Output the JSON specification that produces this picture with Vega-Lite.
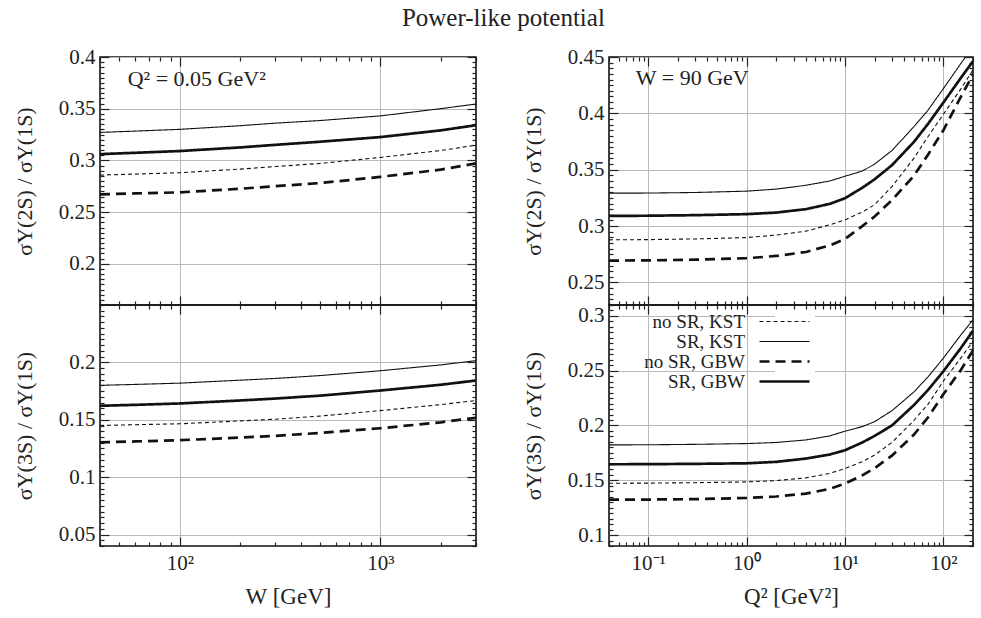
{
"$schema":"https://vega.github.io/schema/vega-lite/v6.json",
"padding":{"left":12,"top":5,"right":7,"bottom":4},
"title":{"text":"Power-like potential","fontSize":25,"font":"Liberation Serif","fontWeight":"normal","color":"#222","anchor":"middle","offset":12,"dx":9},
"spacing":41,
"resolve":{"scale":{"strokeDash":"independent"},"legend":{"strokeDash":"independent"}},
"datasets":{
"tl":[
{"W":40,"series":"no SR, KST","ratio":0.2857},{"W":40,"series":"SR, KST","ratio":0.327},{"W":40,"series":"no SR, GBW","ratio":0.267},{"W":40,"series":"SR, GBW","ratio":0.306},
{"W":60,"series":"no SR, KST","ratio":0.2867},{"W":60,"series":"SR, KST","ratio":0.3283},{"W":60,"series":"no SR, GBW","ratio":0.268},{"W":60,"series":"SR, GBW","ratio":0.3073},
{"W":100,"series":"no SR, KST","ratio":0.288},{"W":100,"series":"SR, KST","ratio":0.33},{"W":100,"series":"no SR, GBW","ratio":0.269},{"W":100,"series":"SR, GBW","ratio":0.309},
{"W":200,"series":"no SR, KST","ratio":0.2915},{"W":200,"series":"SR, KST","ratio":0.3335},{"W":200,"series":"no SR, GBW","ratio":0.2725},{"W":200,"series":"SR, GBW","ratio":0.3125},
{"W":300,"series":"no SR, KST","ratio":0.294},{"W":300,"series":"SR, KST","ratio":0.336},{"W":300,"series":"no SR, GBW","ratio":0.275},{"W":300,"series":"SR, GBW","ratio":0.315},
{"W":500,"series":"no SR, KST","ratio":0.297},{"W":500,"series":"SR, KST","ratio":0.3385},{"W":500,"series":"no SR, GBW","ratio":0.278},{"W":500,"series":"SR, GBW","ratio":0.318},
{"W":1000,"series":"no SR, KST","ratio":0.3028},{"W":1000,"series":"SR, KST","ratio":0.343},{"W":1000,"series":"no SR, GBW","ratio":0.284},{"W":1000,"series":"SR, GBW","ratio":0.3225},
{"W":2000,"series":"no SR, KST","ratio":0.3095},{"W":2000,"series":"SR, KST","ratio":0.35},{"W":2000,"series":"no SR, GBW","ratio":0.291},{"W":2000,"series":"SR, GBW","ratio":0.329},
{"W":3000,"series":"no SR, KST","ratio":0.3147},{"W":3000,"series":"SR, KST","ratio":0.3545},{"W":3000,"series":"no SR, GBW","ratio":0.297},{"W":3000,"series":"SR, GBW","ratio":0.334}
],
"bl":[
{"W":40,"series":"no SR, KST","ratio":0.145},{"W":40,"series":"SR, KST","ratio":0.18},{"W":40,"series":"no SR, GBW","ratio":0.1304},{"W":40,"series":"SR, GBW","ratio":0.1622},
{"W":60,"series":"no SR, KST","ratio":0.1457},{"W":60,"series":"SR, KST","ratio":0.1808},{"W":60,"series":"no SR, GBW","ratio":0.1311},{"W":60,"series":"SR, GBW","ratio":0.163},
{"W":100,"series":"no SR, KST","ratio":0.1465},{"W":100,"series":"SR, KST","ratio":0.1819},{"W":100,"series":"no SR, GBW","ratio":0.1322},{"W":100,"series":"SR, GBW","ratio":0.1642},
{"W":200,"series":"no SR, KST","ratio":0.149},{"W":200,"series":"SR, KST","ratio":0.1845},{"W":200,"series":"no SR, GBW","ratio":0.1345},{"W":200,"series":"SR, GBW","ratio":0.1668},
{"W":300,"series":"no SR, KST","ratio":0.1505},{"W":300,"series":"SR, KST","ratio":0.186},{"W":300,"series":"no SR, GBW","ratio":0.136},{"W":300,"series":"SR, GBW","ratio":0.1685},
{"W":500,"series":"no SR, KST","ratio":0.1532},{"W":500,"series":"SR, KST","ratio":0.1885},{"W":500,"series":"no SR, GBW","ratio":0.1385},{"W":500,"series":"SR, GBW","ratio":0.171},
{"W":1000,"series":"no SR, KST","ratio":0.158},{"W":1000,"series":"SR, KST","ratio":0.1927},{"W":1000,"series":"no SR, GBW","ratio":0.1426},{"W":1000,"series":"SR, GBW","ratio":0.1755},
{"W":2000,"series":"no SR, KST","ratio":0.1632},{"W":2000,"series":"SR, KST","ratio":0.1978},{"W":2000,"series":"no SR, GBW","ratio":0.1478},{"W":2000,"series":"SR, GBW","ratio":0.1805},
{"W":3000,"series":"no SR, KST","ratio":0.1668},{"W":3000,"series":"SR, KST","ratio":0.2015},{"W":3000,"series":"no SR, GBW","ratio":0.1517},{"W":3000,"series":"SR, GBW","ratio":0.1842}
],
"tr":[
{"Q2":0.04,"series":"no SR, KST","ratio":0.2878},{"Q2":0.04,"series":"SR, KST","ratio":0.3292},{"Q2":0.04,"series":"no SR, GBW","ratio":0.2694},{"Q2":0.04,"series":"SR, GBW","ratio":0.309},
{"Q2":0.1,"series":"no SR, KST","ratio":0.288},{"Q2":0.1,"series":"SR, KST","ratio":0.3293},{"Q2":0.1,"series":"no SR, GBW","ratio":0.2696},{"Q2":0.1,"series":"SR, GBW","ratio":0.3092},
{"Q2":0.3,"series":"no SR, KST","ratio":0.2886},{"Q2":0.3,"series":"SR, KST","ratio":0.3298},{"Q2":0.3,"series":"no SR, GBW","ratio":0.2702},{"Q2":0.3,"series":"SR, GBW","ratio":0.3097},
{"Q2":1,"series":"no SR, KST","ratio":0.2898},{"Q2":1,"series":"SR, KST","ratio":0.331},{"Q2":1,"series":"no SR, GBW","ratio":0.2715},{"Q2":1,"series":"SR, GBW","ratio":0.3106},
{"Q2":2,"series":"no SR, KST","ratio":0.292},{"Q2":2,"series":"SR, KST","ratio":0.3328},{"Q2":2,"series":"no SR, GBW","ratio":0.2735},{"Q2":2,"series":"SR, GBW","ratio":0.312},
{"Q2":4,"series":"no SR, KST","ratio":0.2955},{"Q2":4,"series":"SR, KST","ratio":0.3362},{"Q2":4,"series":"no SR, GBW","ratio":0.277},{"Q2":4,"series":"SR, GBW","ratio":0.315},
{"Q2":7,"series":"no SR, KST","ratio":0.3011},{"Q2":7,"series":"SR, KST","ratio":0.34},{"Q2":7,"series":"no SR, GBW","ratio":0.2828},{"Q2":7,"series":"SR, GBW","ratio":0.3197},
{"Q2":10,"series":"no SR, KST","ratio":0.3055},{"Q2":10,"series":"SR, KST","ratio":0.3442},{"Q2":10,"series":"no SR, GBW","ratio":0.2885},{"Q2":10,"series":"SR, GBW","ratio":0.3247},
{"Q2":15,"series":"no SR, KST","ratio":0.3125},{"Q2":15,"series":"SR, KST","ratio":0.3488},{"Q2":15,"series":"no SR, GBW","ratio":0.3},{"Q2":15,"series":"SR, GBW","ratio":0.334},
{"Q2":20,"series":"no SR, KST","ratio":0.319},{"Q2":20,"series":"SR, KST","ratio":0.355},{"Q2":20,"series":"no SR, GBW","ratio":0.3085},{"Q2":20,"series":"SR, GBW","ratio":0.3415},
{"Q2":30,"series":"no SR, KST","ratio":0.335},{"Q2":30,"series":"SR, KST","ratio":0.367},{"Q2":30,"series":"no SR, GBW","ratio":0.323},{"Q2":30,"series":"SR, GBW","ratio":0.354},
{"Q2":50,"series":"no SR, KST","ratio":0.36},{"Q2":50,"series":"SR, KST","ratio":0.388},{"Q2":50,"series":"no SR, GBW","ratio":0.3445},{"Q2":50,"series":"SR, GBW","ratio":0.3745},
{"Q2":70,"series":"no SR, KST","ratio":0.3795},{"Q2":70,"series":"SR, KST","ratio":0.403},{"Q2":70,"series":"no SR, GBW","ratio":0.3635},{"Q2":70,"series":"SR, GBW","ratio":0.3908},
{"Q2":100,"series":"no SR, KST","ratio":0.3992},{"Q2":100,"series":"SR, KST","ratio":0.422},{"Q2":100,"series":"no SR, GBW","ratio":0.385},{"Q2":100,"series":"SR, GBW","ratio":0.4096},
{"Q2":150,"series":"no SR, KST","ratio":0.4215},{"Q2":150,"series":"SR, KST","ratio":0.444},{"Q2":150,"series":"no SR, GBW","ratio":0.4145},{"Q2":150,"series":"SR, GBW","ratio":0.4313},
{"Q2":200,"series":"no SR, KST","ratio":0.4385},{"Q2":200,"series":"SR, KST","ratio":0.4594},{"Q2":200,"series":"no SR, GBW","ratio":0.4345},{"Q2":200,"series":"SR, GBW","ratio":0.4463}
],
"br":[
{"Q2":0.04,"series":"no SR, KST","ratio":0.1473},{"Q2":0.04,"series":"SR, KST","ratio":0.1823},{"Q2":0.04,"series":"no SR, GBW","ratio":0.1323},{"Q2":0.04,"series":"SR, GBW","ratio":0.1646},
{"Q2":0.1,"series":"no SR, KST","ratio":0.1474},{"Q2":0.1,"series":"SR, KST","ratio":0.1824},{"Q2":0.1,"series":"no SR, GBW","ratio":0.1324},{"Q2":0.1,"series":"SR, GBW","ratio":0.1647},
{"Q2":0.3,"series":"no SR, KST","ratio":0.1478},{"Q2":0.3,"series":"SR, KST","ratio":0.1828},{"Q2":0.3,"series":"no SR, GBW","ratio":0.1328},{"Q2":0.3,"series":"SR, GBW","ratio":0.165},
{"Q2":1,"series":"no SR, KST","ratio":0.1485},{"Q2":1,"series":"SR, KST","ratio":0.1835},{"Q2":1,"series":"no SR, GBW","ratio":0.1338},{"Q2":1,"series":"SR, GBW","ratio":0.1655},
{"Q2":2,"series":"no SR, KST","ratio":0.1497},{"Q2":2,"series":"SR, KST","ratio":0.1845},{"Q2":2,"series":"no SR, GBW","ratio":0.1352},{"Q2":2,"series":"SR, GBW","ratio":0.1668},
{"Q2":4,"series":"no SR, KST","ratio":0.1522},{"Q2":4,"series":"SR, KST","ratio":0.1868},{"Q2":4,"series":"no SR, GBW","ratio":0.1378},{"Q2":4,"series":"SR, GBW","ratio":0.1698},
{"Q2":7,"series":"no SR, KST","ratio":0.1563},{"Q2":7,"series":"SR, KST","ratio":0.1905},{"Q2":7,"series":"no SR, GBW","ratio":0.1422},{"Q2":7,"series":"SR, GBW","ratio":0.1735},
{"Q2":10,"series":"no SR, KST","ratio":0.1607},{"Q2":10,"series":"SR, KST","ratio":0.1948},{"Q2":10,"series":"no SR, GBW","ratio":0.147},{"Q2":10,"series":"SR, GBW","ratio":0.1774},
{"Q2":15,"series":"no SR, KST","ratio":0.167},{"Q2":15,"series":"SR, KST","ratio":0.199},{"Q2":15,"series":"no SR, GBW","ratio":0.1545},{"Q2":15,"series":"SR, GBW","ratio":0.1845},
{"Q2":20,"series":"no SR, KST","ratio":0.173},{"Q2":20,"series":"SR, KST","ratio":0.2035},{"Q2":20,"series":"no SR, GBW","ratio":0.161},{"Q2":20,"series":"SR, GBW","ratio":0.1905},
{"Q2":30,"series":"no SR, KST","ratio":0.1845},{"Q2":30,"series":"SR, KST","ratio":0.2135},{"Q2":30,"series":"no SR, GBW","ratio":0.1725},{"Q2":30,"series":"SR, GBW","ratio":0.2},
{"Q2":50,"series":"no SR, KST","ratio":0.2045},{"Q2":50,"series":"SR, KST","ratio":0.2305},{"Q2":50,"series":"no SR, GBW","ratio":0.1915},{"Q2":50,"series":"SR, GBW","ratio":0.2185},
{"Q2":70,"series":"no SR, KST","ratio":0.2195},{"Q2":70,"series":"SR, KST","ratio":0.2445},{"Q2":70,"series":"no SR, GBW","ratio":0.2075},{"Q2":70,"series":"SR, GBW","ratio":0.2325},
{"Q2":100,"series":"no SR, KST","ratio":0.2405},{"Q2":100,"series":"SR, KST","ratio":0.2615},{"Q2":100,"series":"no SR, GBW","ratio":0.2285},{"Q2":100,"series":"SR, GBW","ratio":0.2495},
{"Q2":150,"series":"no SR, KST","ratio":0.2615},{"Q2":150,"series":"SR, KST","ratio":0.2825},{"Q2":150,"series":"no SR, GBW","ratio":0.2505},{"Q2":150,"series":"SR, GBW","ratio":0.2705},
{"Q2":200,"series":"no SR, KST","ratio":0.277},{"Q2":200,"series":"SR, KST","ratio":0.2965},{"Q2":200,"series":"no SR, GBW","ratio":0.2685},{"Q2":200,"series":"SR, GBW","ratio":0.2865}
]
},
"hconcat":[
{"vconcat":[
 {"width":376,"height":248,"data":{"name":"tl"},
  "layer":[
   {"mark":{"type":"line","color":"#111","clip":true},
    "encoding":{
     "x":{"field":"W","type":"quantitative","scale":{"type":"log","domain":[40,3000],"nice":false},
      "axis":{"orient":"bottom","values":[40,50,60,70,80,90,100,200,300,400,500,600,700,800,900,1000,2000,3000],"labels":false,"title":null,"grid":true,
       "gridOpacity":{"condition":{"test":"datum.value==100||datum.value==1000","value":1},"value":0},
       "tickSize":{"condition":{"test":"datum.value==100||datum.value==1000","value":-9},"value":-4}}},
     "y":{"field":"ratio","type":"quantitative","scale":{"domain":[0.16,0.4],"nice":false,"zero":false},
      "axis":{"orient":"left","values":[0.16,0.165,0.17,0.175,0.18,0.185,0.19,0.195,0.2,0.205,0.21,0.215,0.22,0.225,0.23,0.235,0.24,0.245,0.25,0.255,0.26,0.265,0.27,0.275,0.28,0.285,0.29,0.295,0.3,0.305,0.31,0.315,0.32,0.325,0.33,0.335,0.34,0.345,0.35,0.355,0.36,0.365,0.37,0.375,0.38,0.385,0.39,0.395,0.4],
       "labelExpr":"abs(datum.value*20-round(datum.value*20))<0.001 ? format(datum.value,'.2~f') : ''",
       "labelPadding":14,"grid":true,
       "gridOpacity":{"condition":{"test":"abs(datum.value*20-round(datum.value*20))<0.001","value":1},"value":0},
       "tickSize":{"condition":{"test":"abs(datum.value*20-round(datum.value*20))<0.001","value":-9},"value":-4},
       "minExtent":50,"maxExtent":50,"title":"σΥ(2S) / σΥ(1S)","titleFontSize":22,"titlePadding":14}},
     "strokeDash":{"field":"series","type":"nominal","scale":{"domain":["no SR, KST","SR, KST","no SR, GBW","SR, GBW"],"range":[[4,3],[1,0],[10,6],[1,0]]},"legend":null},
     "strokeWidth":{"condition":{"test":"datum.series=='no SR, GBW'||datum.series=='SR, GBW'","value":2.7},"value":1.1}
    }},
   {"mark":{"type":"point","opacity":0},
    "encoding":{
     "x":{"field":"W","type":"quantitative","scale":{"type":"log","domain":[40,3000],"nice":false},
      "axis":{"orient":"top","values":[40,50,60,70,80,90,100,200,300,400,500,600,700,800,900,1000,2000,3000],"labels":false,"title":null,"grid":false,
       "tickSize":{"condition":{"test":"datum.value==100||datum.value==1000","value":-9},"value":-4}}},
     "y":{"field":"ratio","type":"quantitative","scale":{"domain":[0.16,0.4],"nice":false,"zero":false},
      "axis":{"orient":"right","values":[0.16,0.165,0.17,0.175,0.18,0.185,0.19,0.195,0.2,0.205,0.21,0.215,0.22,0.225,0.23,0.235,0.24,0.245,0.25,0.255,0.26,0.265,0.27,0.275,0.28,0.285,0.29,0.295,0.3,0.305,0.31,0.315,0.32,0.325,0.33,0.335,0.34,0.345,0.35,0.355,0.36,0.365,0.37,0.375,0.38,0.385,0.39,0.395,0.4],
       "labels":false,"title":null,"grid":false,
       "tickSize":{"condition":{"test":"abs(datum.value*20-round(datum.value*20))<0.001","value":-9},"value":-4}}}
    }},
   {"data":{"values":[{}]},
    "mark":{"type":"text","align":"left","baseline":"alphabetic","fontSize":22,"font":"Liberation Serif","color":"#222"},
    "encoding":{"x":{"datum":55,"type":"quantitative","axis":null},"y":{"datum":0.372,"type":"quantitative","axis":null},"text":{"value":"Q² = 0.05 GeV²"}}}
  ],
  "resolve":{"axis":{"x":"independent","y":"independent"}}
 },
 {"width":376,"height":241,"data":{"name":"bl"},
  "layer":[
   {"mark":{"type":"line","color":"#111","clip":true},
    "encoding":{
     "x":{"field":"W","type":"quantitative","scale":{"type":"log","domain":[40,3000],"nice":false},
      "axis":{"orient":"bottom","values":[40,50,60,70,80,90,100,200,300,400,500,600,700,800,900,1000,2000,3000],
       "labelExpr":"datum.value==100 ? '10²' : datum.value==1000 ? '10³' : ''","labelPadding":15,"title":"W [GeV]","titlePadding":7,"grid":true,
       "gridOpacity":{"condition":{"test":"datum.value==100||datum.value==1000","value":1},"value":0},
       "tickSize":{"condition":{"test":"datum.value==100||datum.value==1000","value":-9},"value":-4}}},
     "y":{"field":"ratio","type":"quantitative","scale":{"domain":[0.04,0.25],"nice":false,"zero":false},
      "axis":{"orient":"left","values":[0.04,0.045,0.05,0.055,0.06,0.065,0.07,0.075,0.08,0.085,0.09,0.095,0.1,0.105,0.11,0.115,0.12,0.125,0.13,0.135,0.14,0.145,0.15,0.155,0.16,0.165,0.17,0.175,0.18,0.185,0.19,0.195,0.2,0.205,0.21,0.215,0.22,0.225,0.23,0.235,0.24,0.245],
       "labelExpr":"abs(datum.value*20-round(datum.value*20))<0.001 ? format(datum.value,'.2~f') : ''",
       "labelPadding":14,"grid":true,
       "gridOpacity":{"condition":{"test":"abs(datum.value*20-round(datum.value*20))<0.001","value":1},"value":0},
       "tickSize":{"condition":{"test":"abs(datum.value*20-round(datum.value*20))<0.001","value":-9},"value":-4},
       "minExtent":50,"maxExtent":50,"title":"σΥ(3S) / σΥ(1S)","titleFontSize":22,"titlePadding":14}},
     "strokeDash":{"field":"series","type":"nominal","scale":{"domain":["no SR, KST","SR, KST","no SR, GBW","SR, GBW"],"range":[[4,3],[1,0],[10,6],[1,0]]},"legend":null},
     "strokeWidth":{"condition":{"test":"datum.series=='no SR, GBW'||datum.series=='SR, GBW'","value":2.7},"value":1.1}
    }},
   {"mark":{"type":"point","opacity":0},
    "encoding":{
     "x":{"field":"W","type":"quantitative","scale":{"type":"log","domain":[40,3000],"nice":false},
      "axis":{"orient":"top","values":[40,50,60,70,80,90,100,200,300,400,500,600,700,800,900,1000,2000,3000],"labels":false,"title":null,"grid":false,
       "tickSize":{"condition":{"test":"datum.value==100||datum.value==1000","value":-9},"value":-4}}},
     "y":{"field":"ratio","type":"quantitative","scale":{"domain":[0.04,0.25],"nice":false,"zero":false},
      "axis":{"orient":"right","values":[0.04,0.045,0.05,0.055,0.06,0.065,0.07,0.075,0.08,0.085,0.09,0.095,0.1,0.105,0.11,0.115,0.12,0.125,0.13,0.135,0.14,0.145,0.15,0.155,0.16,0.165,0.17,0.175,0.18,0.185,0.19,0.195,0.2,0.205,0.21,0.215,0.22,0.225,0.23,0.235,0.24,0.245],
       "labels":false,"title":null,"grid":false,
       "tickSize":{"condition":{"test":"abs(datum.value*20-round(datum.value*20))<0.001","value":-9},"value":-4}}}
    }}
  ],
  "resolve":{"axis":{"x":"independent","y":"independent"}}
 }
],
"spacing":0,"bounds":"flush",
"resolve":{"scale":{"strokeDash":"independent"},"legend":{"strokeDash":"independent"}}
},
{"vconcat":[
 {"width":364,"height":248,"data":{"name":"tr"},
  "layer":[
   {"mark":{"type":"line","color":"#111","clip":true},
    "encoding":{
     "x":{"field":"Q2","type":"quantitative","scale":{"type":"log","domain":[0.04,200],"nice":false},
      "axis":{"orient":"bottom","values":[0.04,0.05,0.06,0.07,0.08,0.09,0.1,0.2,0.3,0.4,0.5,0.6,0.7,0.8,0.9,1,2,3,4,5,6,7,8,9,10,20,30,40,50,60,70,80,90,100,200],"labels":false,"title":null,"grid":true,
       "gridOpacity":{"condition":{"test":"datum.value==0.1||datum.value==1||datum.value==10||datum.value==100","value":1},"value":0},
       "tickSize":{"condition":{"test":"datum.value==0.1||datum.value==1||datum.value==10||datum.value==100","value":-9},"value":-4}}},
     "y":{"field":"ratio","type":"quantitative","scale":{"domain":[0.23,0.45],"nice":false,"zero":false},
      "axis":{"orient":"left","values":[0.23,0.235,0.24,0.245,0.25,0.255,0.26,0.265,0.27,0.275,0.28,0.285,0.29,0.295,0.3,0.305,0.31,0.315,0.32,0.325,0.33,0.335,0.34,0.345,0.35,0.355,0.36,0.365,0.37,0.375,0.38,0.385,0.39,0.395,0.4,0.405,0.41,0.415,0.42,0.425,0.43,0.435,0.44,0.445,0.45],
       "labelExpr":"abs(datum.value*20-round(datum.value*20))<0.001 ? format(datum.value,'.2~f') : ''",
       "labelPadding":14,"grid":true,
       "gridOpacity":{"condition":{"test":"abs(datum.value*20-round(datum.value*20))<0.001","value":1},"value":0},
       "tickSize":{"condition":{"test":"abs(datum.value*20-round(datum.value*20))<0.001","value":-9},"value":-4},
       "minExtent":50,"maxExtent":50,"title":"σΥ(2S) / σΥ(1S)","titleFontSize":22,"titlePadding":14}},
     "strokeDash":{"field":"series","type":"nominal","scale":{"domain":["no SR, KST","SR, KST","no SR, GBW","SR, GBW"],"range":[[4,3],[1,0],[10,6],[1,0]]},"legend":null},
     "strokeWidth":{"condition":{"test":"datum.series=='no SR, GBW'||datum.series=='SR, GBW'","value":2.7},"value":1.1}
    }},
   {"mark":{"type":"point","opacity":0},
    "encoding":{
     "x":{"field":"Q2","type":"quantitative","scale":{"type":"log","domain":[0.04,200],"nice":false},
      "axis":{"orient":"top","values":[0.04,0.05,0.06,0.07,0.08,0.09,0.1,0.2,0.3,0.4,0.5,0.6,0.7,0.8,0.9,1,2,3,4,5,6,7,8,9,10,20,30,40,50,60,70,80,90,100,200],"labels":false,"title":null,"grid":false,
       "tickSize":{"condition":{"test":"datum.value==0.1||datum.value==1||datum.value==10||datum.value==100","value":-9},"value":-4}}},
     "y":{"field":"ratio","type":"quantitative","scale":{"domain":[0.23,0.45],"nice":false,"zero":false},
      "axis":{"orient":"right","values":[0.23,0.235,0.24,0.245,0.25,0.255,0.26,0.265,0.27,0.275,0.28,0.285,0.29,0.295,0.3,0.305,0.31,0.315,0.32,0.325,0.33,0.335,0.34,0.345,0.35,0.355,0.36,0.365,0.37,0.375,0.38,0.385,0.39,0.395,0.4,0.405,0.41,0.415,0.42,0.425,0.43,0.435,0.44,0.445,0.45],
       "labels":false,"title":null,"grid":false,
       "tickSize":{"condition":{"test":"abs(datum.value*20-round(datum.value*20))<0.001","value":-9},"value":-4}}}
    }},
   {"data":{"values":[{}]},
    "mark":{"type":"text","align":"left","baseline":"alphabetic","fontSize":22,"font":"Liberation Serif","color":"#222"},
    "encoding":{"x":{"datum":0.075,"type":"quantitative","axis":null},"y":{"datum":0.425,"type":"quantitative","axis":null},"text":{"value":"W = 90 GeV"}}}
  ],
  "resolve":{"axis":{"x":"independent","y":"independent"}}
 },
 {"width":364,"height":241,"data":{"name":"br"},
  "layer":[
   {"mark":{"type":"line","color":"#111","clip":true},
    "encoding":{
     "x":{"field":"Q2","type":"quantitative","scale":{"type":"log","domain":[0.04,200],"nice":false},
      "axis":{"orient":"bottom","values":[0.04,0.05,0.06,0.07,0.08,0.09,0.1,0.2,0.3,0.4,0.5,0.6,0.7,0.8,0.9,1,2,3,4,5,6,7,8,9,10,20,30,40,50,60,70,80,90,100,200],
       "labelExpr":"datum.value==0.1 ? '10⁻¹' : datum.value==1 ? '10⁰' : datum.value==10 ? '10¹' : datum.value==100 ? '10²' : ''","labelPadding":15,"title":"Q² [GeV²]","titlePadding":7,"grid":true,
       "gridOpacity":{"condition":{"test":"datum.value==0.1||datum.value==1||datum.value==10||datum.value==100","value":1},"value":0},
       "tickSize":{"condition":{"test":"datum.value==0.1||datum.value==1||datum.value==10||datum.value==100","value":-9},"value":-4}}},
     "y":{"field":"ratio","type":"quantitative","scale":{"domain":[0.09,0.31],"nice":false,"zero":false},
      "axis":{"orient":"left","values":[0.09,0.095,0.1,0.105,0.11,0.115,0.12,0.125,0.13,0.135,0.14,0.145,0.15,0.155,0.16,0.165,0.17,0.175,0.18,0.185,0.19,0.195,0.2,0.205,0.21,0.215,0.22,0.225,0.23,0.235,0.24,0.245,0.25,0.255,0.26,0.265,0.27,0.275,0.28,0.285,0.29,0.295,0.3,0.305,0.31],
       "labelExpr":"abs(datum.value*20-round(datum.value*20))<0.001 ? format(datum.value,'.2~f') : ''",
       "labelPadding":14,"grid":true,
       "gridOpacity":{"condition":{"test":"abs(datum.value*20-round(datum.value*20))<0.001","value":1},"value":0},
       "tickSize":{"condition":{"test":"abs(datum.value*20-round(datum.value*20))<0.001","value":-9},"value":-4},
       "minExtent":50,"maxExtent":50,"title":"σΥ(3S) / σΥ(1S)","titleFontSize":22,"titlePadding":14}},
     "strokeDash":{"field":"series","type":"nominal","scale":{"domain":["no SR, KST","SR, KST","no SR, GBW","SR, GBW"],"range":[[4,3],[1,0],[10,6],[1,0]]},
      "legend":{"orient":"none","legendX":166,"legendY":7,"title":null,"symbolType":"M-5,0H5","symbolSize":100,"symbolStrokeColor":"#111","symbolFillColor":"transparent","labelAlign":"right","labelOffset":-49,"labelFontSize":19,"labelFont":"Liberation Serif","labelColor":"#222","rowPadding":-4,"padding":0,"fillColor":"white",
       "encode":{"symbols":{"update":{"strokeWidth":{"signal":"datum.value=='no SR, GBW'||datum.value=='SR, GBW' ? 2.7 : 1.1"}}}}}},
     "strokeWidth":{"condition":{"test":"datum.series=='no SR, GBW'||datum.series=='SR, GBW'","value":2.7},"value":1.1}
    }},
   {"mark":{"type":"point","opacity":0},
    "encoding":{
     "x":{"field":"Q2","type":"quantitative","scale":{"type":"log","domain":[0.04,200],"nice":false},
      "axis":{"orient":"top","values":[0.04,0.05,0.06,0.07,0.08,0.09,0.1,0.2,0.3,0.4,0.5,0.6,0.7,0.8,0.9,1,2,3,4,5,6,7,8,9,10,20,30,40,50,60,70,80,90,100,200],"labels":false,"title":null,"grid":false,
       "tickSize":{"condition":{"test":"datum.value==0.1||datum.value==1||datum.value==10||datum.value==100","value":-9},"value":-4}}},
     "y":{"field":"ratio","type":"quantitative","scale":{"domain":[0.09,0.31],"nice":false,"zero":false},
      "axis":{"orient":"right","values":[0.09,0.095,0.1,0.105,0.11,0.115,0.12,0.125,0.13,0.135,0.14,0.145,0.15,0.155,0.16,0.165,0.17,0.175,0.18,0.185,0.19,0.195,0.2,0.205,0.21,0.215,0.22,0.225,0.23,0.235,0.24,0.245,0.25,0.255,0.26,0.265,0.27,0.275,0.28,0.285,0.29,0.295,0.3,0.305,0.31],
       "labels":false,"title":null,"grid":false,
       "tickSize":{"condition":{"test":"abs(datum.value*20-round(datum.value*20))<0.001","value":-9},"value":-4}}}
    }}
  ],
  "resolve":{"axis":{"x":"independent","y":"independent"}}
 }
],
"spacing":0,"bounds":"flush",
"resolve":{"scale":{"strokeDash":"independent"},"legend":{"strokeDash":"independent"}}
}
],
"config":{
 "view":{"stroke":"#111","strokeWidth":1.6},
 "axis":{"labelFont":"Liberation Serif","labelFontSize":21,"labelColor":"#222","titleFont":"Liberation Serif","titleFontSize":23,"titleFontWeight":"normal","titleColor":"#222","tickColor":"#222","tickWidth":1.2,"gridColor":"#b9b9b9","gridWidth":1,"domain":false,"labelOverlap":false}
}
}
